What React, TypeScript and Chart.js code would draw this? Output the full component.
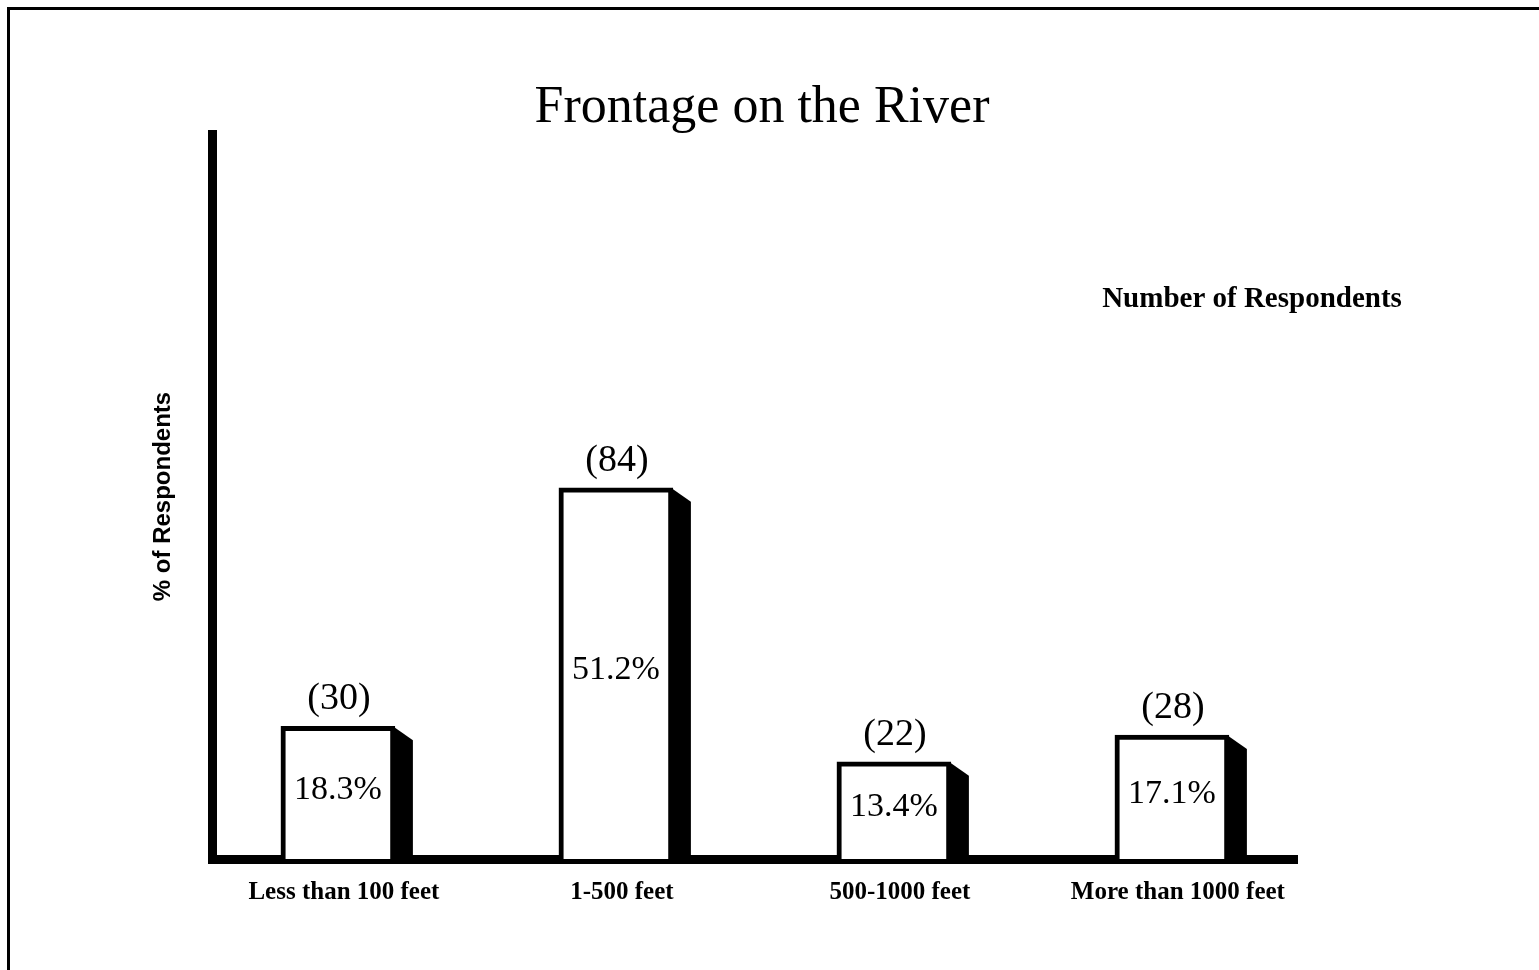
import React, { useEffect, useRef } from "react";
import { Chart, registerables } from "chart.js";

Chart.register(...registerables);

const categories = ["Less than 100 feet", "1-500 feet", "500-1000 feet", "More than 1000 feet"];
const percentages = [18.3, 51.2, 13.4, 17.1];
const respondents = [30, 84, 22, 28];
const chartTitle = "Frontage on the River";
const yAxisTitle = "% of Respondents";
const countLegend = "Number of Respondents";

const framePlugin = {
  id: "frame",
  beforeDraw(chart: any) {
    const { ctx, width, height } = chart;
    ctx.save();
    ctx.fillStyle = "#ffffff";
    ctx.fillRect(0, 0, width, height);
    ctx.fillStyle = "#000000";
    ctx.fillRect(8, 7, width - 8, 3);
    ctx.fillRect(7, 7, 3, height - 7);
    ctx.restore();
  },
};

const decorPlugin = {
  id: "decor",
  afterDatasetsDraw(chart: any) {
    const { ctx } = chart;
    const meta = chart.getDatasetMeta(0);
    ctx.save();
    meta.data.forEach((el: any, i: number) => {
      const { x, y, base, width } = el.getProps(["x", "y", "base", "width"], true);
      const right = x + width / 2;
      // 3D side shadow
      ctx.fillStyle = "#000";
      ctx.beginPath();
      ctx.moveTo(right - 2, y);
      ctx.lineTo(right + 18, y + 14);
      ctx.lineTo(right + 18, base);
      ctx.lineTo(right - 2, base);
      ctx.closePath();
      ctx.fill();
      // labels
      ctx.fillStyle = "#000";
      ctx.textAlign = "center";
      ctx.textBaseline = "middle";
      ctx.font = "38px 'Liberation Serif'";
      ctx.fillText(`(${respondents[i]})`, x + 1, y - 27);
      ctx.font = "34px 'Liberation Serif'";
      ctx.fillText(`${percentages[i].toFixed(1)}%`, x, (y + base) / 2 - 3);
    });
    // chart title
    ctx.textAlign = "center";
    ctx.textBaseline = "alphabetic";
    ctx.font = "52px 'Liberation Serif'";
    ctx.fillText(chartTitle, 762, 122);
    // count legend text
    ctx.font = "bold 29px 'Liberation Serif'";
    ctx.fillText(countLegend, 1252, 307);
    ctx.restore();
  },
};

export default function App() {
  const ref = useRef<HTMLCanvasElement | null>(null);

  useEffect(() => {
    if (!ref.current) return;
    const chart = new Chart(ref.current, {
      type: "bar",
      data: {
        datasets: [
          {
            data: percentages.map((v, i) => ({ x: i, y: v })),
            backgroundColor: "#ffffff",
            borderColor: "#000000",
            borderWidth: 5,
            barThickness: 114,
          },
        ],
      },
      options: {
        animation: false,
        responsive: false,
        layout: { padding: { left: 149, right: 242, top: 134, bottom: 43 } },
        plugins: {
          legend: { display: false },
          tooltip: { enabled: false },
          title: { display: false },
        },
        scales: {
          x: {
            type: "linear",
            offset: false,
            min: -0.45,
            max: 3.45,
            afterBuildTicks: (scale: any) => {
              scale.ticks = categories.map((_, i) => ({ value: i }));
            },
            ticks: {
              callback: (v: any) => categories[v as number] ?? "",
              font: { family: "'Liberation Serif'", size: 25, weight: "bold" },
              color: "#000",
              padding: 19,
              labelOffset: 6,
              maxRotation: 0,
              autoSkip: false,
            },
            grid: { display: false, drawTicks: false, offset: false },
            border: { display: true, width: 9, color: "#000" },
          },
          y: {
            min: 0,
            max: 100,
            ticks: { display: false },
            grid: { display: false, drawTicks: false },
            border: { display: true, width: 9, color: "#000" },
            title: {
              display: true,
              text: yAxisTitle,
              color: "#000",
              font: { family: "'Liberation Sans'", size: 24, weight: "bold" },
              padding: { top: 0, bottom: 35 },
            },
          },
        },
      },
      plugins: [framePlugin, decorPlugin],
    });
    return () => chart.destroy();
  }, []);

  return (
    <div style={{ position: "absolute", left: 0, top: 0, width: 1539, height: 970 }}>
      <canvas ref={ref} width={1539} height={970} style={{ display: "block" }} />
    </div>
  );
}
